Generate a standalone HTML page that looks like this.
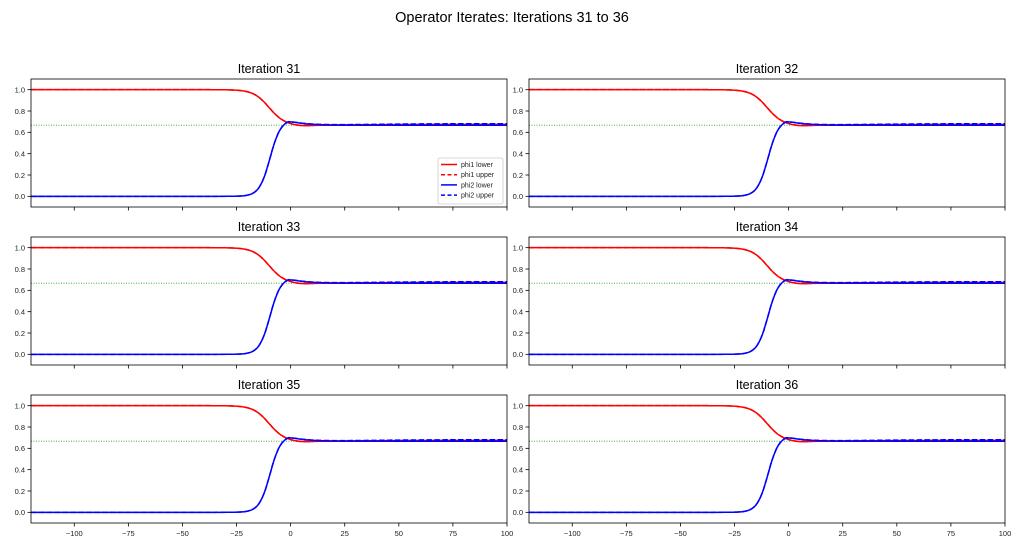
<!DOCTYPE html>
<html><head><meta charset="utf-8"><style>
body{margin:0;background:#fff}
svg{display:block;font-family:"Liberation Sans","DejaVu Sans",sans-serif}
</style></head><body>
<svg id="s" width="1024" height="550" xmlns="http://www.w3.org/2000/svg">
<rect width="1024" height="550" fill="#fff"/>
<text x="512" y="22" font-size="14.5" text-anchor="middle" fill="#000">Operator Iterates: Iterations 31 to 36</text>
</svg>
<script>
const s=document.getElementById('s');
let h='';
const sig=z=>1/(1+Math.exp(-z));
const cols=[31,529],rows=[79,237,395],W=476,H=128;
function red(x){return 2/3+(1/3)*(1-sig((x+10)/3.6))-0.008*Math.exp(-Math.pow((x-5)/6,2));}
function blue(x){return sig((x+9.5)/2.5)*(0.667+0.055*Math.exp(-Math.max(0,x+1)/6));}
function up(x){return 0.014*sig((x-35)/15);}
let n=31;
for(let r=0;r<3;r++)for(let c=0;c<2;c++){
 const L=cols[c],T=rows[r];
 const X=x=>L+(x+120)/220*W, Y=y=>T+(1.1-y)/1.2*H;
 h+=`<text x="${L+W/2}" y="${T-6}" font-size="12.5" text-anchor="middle">Iteration ${n++}</text>`;
 h+=`<clipPath id="c${r}${c}"><rect x="${L}" y="${T}" width="${W}" height="${H}"/></clipPath><g clip-path="url(#c${r}${c})">`;
 h+=`<line x1="${L}" x2="${L+W}" y1="${Y(2/3)}" y2="${Y(2/3)}" stroke="#2ca02c" stroke-width="0.9" stroke-dasharray="1,1.5"/>`;
 const path=(f,d)=>{let p='';for(let x=-120;x<=100;x+=0.5)p+=(p?'L':'M')+X(x).toFixed(1)+','+Y(f(x)).toFixed(2);return p;};
 h+=`<path d="${path(red)}" fill="none" stroke="#f00" stroke-width="1.5"/>`;
 h+=`<path d="${path(x=>red(x)+up(x)*0.6)}" fill="none" stroke="#f00" stroke-width="1.5" stroke-dasharray="5.5,2.4"/>`;
 h+=`<path d="${path(blue)}" fill="none" stroke="#00f" stroke-width="1.5"/>`;
 h+=`<path d="${path(x=>blue(x)+up(x))}" fill="none" stroke="#00f" stroke-width="1.5" stroke-dasharray="5.5,2.4"/>`;
 h+=`</g><rect x="${L}" y="${T}" width="${W}" height="${H}" fill="none" stroke="#000" stroke-width="0.8"/>`;
 for(let k=0;k<=5;k++){const y=Y(k*0.2);h+=`<line x1="${L-3.5}" x2="${L}" y1="${y}" y2="${y}" stroke="#000" stroke-width="0.8"/><text x="${L-6}" y="${y+2.8}" font-size="7.5" text-anchor="end" fill="#222">${(k*0.2).toFixed(1)}</text>`;}
 for(let v=-100;v<=100;v+=25){const x=X(v);h+=`<line x1="${x}" x2="${x}" y1="${T+H}" y2="${T+H+3.5}" stroke="#000" stroke-width="0.8"/>`;
  if(r==2)h+=`<text x="${x}" y="${T+H+13}" font-size="7.5" text-anchor="middle" fill="#222">${v<0?'\u2212'+(-v):v}</text>`;}
}
h+=`<rect x="438" y="158" width="65" height="46" rx="2" fill="#fff" stroke="#ccc" stroke-width="0.8"/>`;
const lg=[["phi1 lower","#f00",0],["phi1 upper","#f00",1],["phi2 lower","#00f",0],["phi2 upper","#00f",1]];
lg.forEach((e,i)=>{const y=164.5+i*10.2;h+=`<line x1="441" x2="457" y1="${y}" y2="${y}" stroke="${e[1]}" stroke-width="1.5" ${e[2]?'stroke-dasharray="4,2.5"':''}/><text x="461" y="${y+2.5}" font-size="7" fill="#222">${e[0]}</text>`;});
s.insertAdjacentHTML('beforeend',h);
</script>
</body></html>
